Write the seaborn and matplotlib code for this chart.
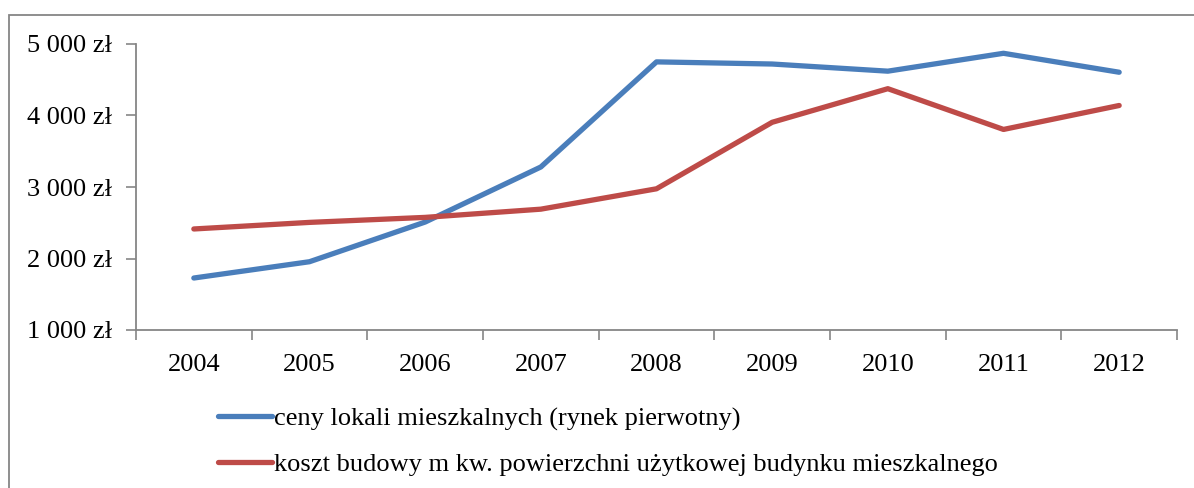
import numpy as np
import pandas as pd
import matplotlib
matplotlib.use('Agg')
import matplotlib.pyplot as plt
import seaborn as sns
from matplotlib.patches import Rectangle

# data
years = ['2004', '2005', '2006', '2007', '2008', '2009', '2010', '2011', '2012']
ceny_lokali = [1727, 1955, 2510, 3280, 4750, 4720, 4620, 4870, 4605]
koszt_budowy = [2413, 2505, 2575, 2690, 2975, 3905, 4375, 3805, 4140]
series_names = ['ceny lokali mieszkalnych (rynek pierwotny)',
                'koszt budowy m kw. powierzchni użytkowej budynku mieszkalnego']
y_ticks = [1000, 2000, 3000, 4000, 5000]
y_labels = ['1 000 zł', '2 000 zł', '3 000 zł', '4 000 zł', '5 000 zł']

ds = pd.DataFrame({
    'pos': list(range(len(years))) * 2,
    'value': ceny_lokali + koszt_budowy,
    'series': [series_names[0]] * len(years) + [series_names[1]] * len(years),
})

sns.set_style('white')
plt.rcParams['font.family'] = ['Liberation Serif', 'DejaVu Serif']
plt.rcParams['text.color'] = 'black'
plt.rcParams['xtick.labelcolor'] = 'black'
plt.rcParams['ytick.labelcolor'] = 'black'
FS = 19

fig = plt.figure(figsize=(11.94, 4.88), dpi=100)
ax = fig.add_axes([136 / 1194, 1 - 330 / 488, (1177 - 136) / 1194, (330 - 44) / 488])

sns.lineplot(data=ds, x='pos', y='value', hue='series',
             palette=['#4A7EBB', '#BE4B48'], linewidth=3.8, ax=ax,
             legend=False, solid_capstyle='round')

ax.set_xlim(-0.5, len(years) - 0.5)
ax.set_ylim(1000, 5000)
ax.set_yticks(y_ticks)
ax.set_yticklabels(y_labels, fontsize=FS)
ax.set_xticks(np.arange(-0.5, len(years), 1.0))
ax.set_xticklabels([])
ax.set_xticks(np.arange(len(years)), minor=True)
ax.set_xticklabels(years, minor=True, fontsize=FS)
ax.tick_params(axis='x', which='major', direction='out', length=7, width=1.2,
               color='#868686', bottom=True)
ax.tick_params(axis='x', which='minor', length=0, pad=17, labelcolor='black')
ax.tick_params(axis='y', direction='out', length=7, width=1.2, color='#868686',
               left=True, pad=10, labelcolor='black')
ax.set_xlabel('')
ax.set_ylabel('')
for side in ['top', 'right']:
    ax.spines[side].set_visible(False)
for side in ['left', 'bottom']:
    ax.spines[side].set_color('#868686')
    ax.spines[side].set_linewidth(1.3)

# legend below the plot
handles = [plt.Line2D([], [], color=c, linewidth=3.8, solid_capstyle='round')
           for c in ['#4A7EBB', '#BE4B48']]
fig.legend(handles, series_names, loc='upper left',
           bbox_to_anchor=(194 / 1194, 1 - 383 / 488), frameon=False,
           fontsize=FS, handlelength=2.05, handletextpad=0.1, labelspacing=0.83,
           labelcolor='black')

# outer chart frame
fig.patches.append(Rectangle((9 / 1194, -0.05), 1.2, 1 - 15 / 488 + 0.05,
                             transform=fig.transFigure, fill=False,
                             edgecolor='#868686', linewidth=1.3))

fig.savefig('out.png', dpi=100)
